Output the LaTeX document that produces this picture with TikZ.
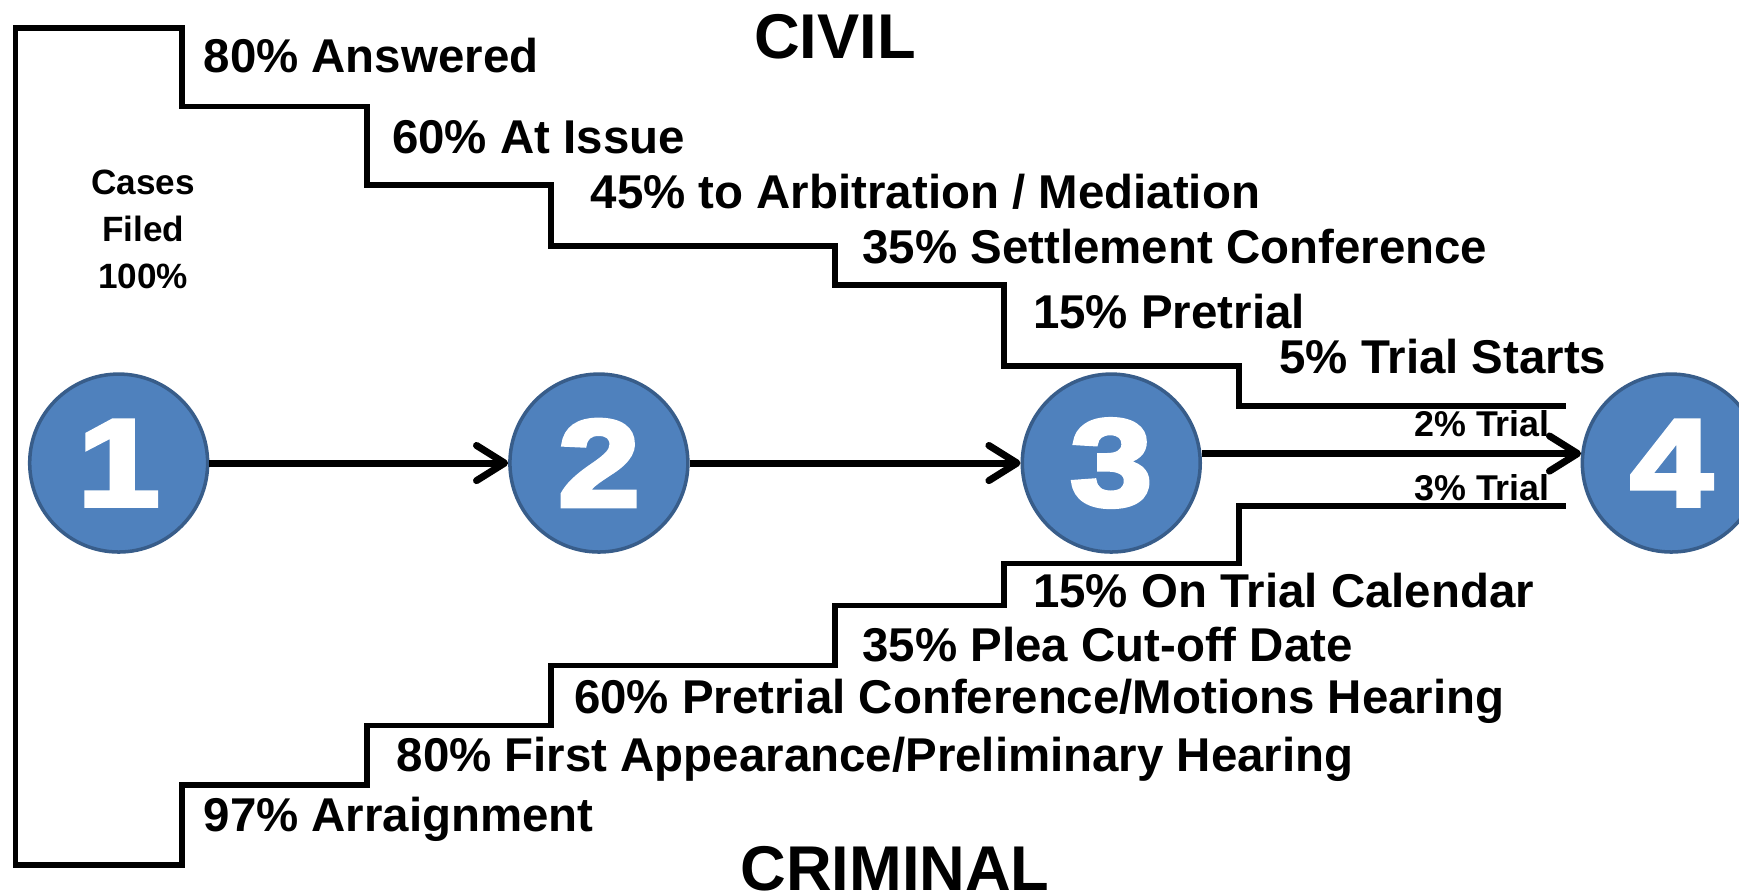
\documentclass[tikz,border=0pt]{standalone}
\usepackage{fontspec}
\setmainfont{Liberation Sans}
\newfontfamily\digitfont[FakeBold=4, FakeStretch=1.2]{Liberation Sans Bold}
\usetikzlibrary{arrows.meta}
\definecolor{stageBlue}{HTML}{4F81BD}
\definecolor{stageEdge}{HTML}{385D8A}

\begin{document}
\begin{tikzpicture}[x=0.01109cm, y=-0.01109cm,
    stage/.style={circle, draw=stageEdge, line width=1pt, fill=stageBlue, minimum size=1.78cm, inner sep=0pt, text=white, font=\digitfont\fontsize{35}{35}\selectfont},
    steptext/.style={anchor=base west, inner sep=0pt, font=\bfseries\fontsize{13.5}{16}\selectfont},
    trialtext/.style={anchor=base east, inner sep=0pt, font=\bfseries\fontsize{10.2}{12}\selectfont},
    heading/.style={anchor=base, inner sep=0pt, font=\bfseries\fontsize{18}{20}\selectfont},
    flow/.style={line width=2pt, -{Straight Barb[length=8pt, width=10pt, round]}},
    stairs/.style={line width=1.6pt}]
    \useasboundingbox (0,0) rectangle (1568,806);

    % stages
    \node[stage] (c1) at (107,417.5) {1};
    \node[stage] (c2) at (540,417.5) {2};
    \node[stage] (c3) at (1002,417.5) {3};
    \node[stage] (c4) at (1507,417.5) {4};

    \draw[flow] (c1) -- (c2);
    \draw[flow] (c2) -- (c3);
    \draw[flow] (c3.6) -- (c4.174);

    % civil on top, criminal below
    \draw[stairs] (1412,366) -| (1117,330) -| (905,257) -| (753,222) -| (497,167) -| (331,96) -| (164,25) -- (14,25)
        -- (14,780) -| (164,708) -| (331,654) -| (497,600) -| (753,546) -| (905,508) -| (1117,456) -- (1412,456);

    \node[heading] (civil) at (753,52.6) {CIVIL};
    \node[heading] (criminal) at (807,802.5) {CRIMINAL};

    \node[align=center, font=\bfseries\fontsize{10}{13.3}\selectfont] (filed) at (129,207) {Cases\\Filed\\100\%};

    \node[steptext] (answered) at (183,65) {80\% Answered};
    \node[steptext] (issue) at (353,138) {60\% At Issue};
    \node[steptext] (arbit) at (532,188) {45\% to Arbitration / Mediation};
    \node[steptext] (settle) at (777,237.5) {35\% Settlement Conference};
    \node[steptext] (pretrial) at (931,296) {15\% Pretrial};
    \node[steptext] (starts) at (1153,336.5) {5\% Trial Starts};

    \node[trialtext] (civtrial) at (1398,394) {2\% Trial};
    \node[trialtext] (crimtrial) at (1398,451) {3\% Trial};

    \node[steptext] (calendar) at (931,548) {15\% On Trial Calendar};
    \node[steptext] (plea) at (777,596) {35\% Plea Cut-off Date};
    \node[steptext] (motions) at (517,643) {60\% Pretrial Conference/Motions Hearing};
    \node[steptext] (appear) at (357,696) {80\% First Appearance/Preliminary Hearing};
    \node[steptext] (arraign) at (183,750) {97\% Arraignment};
\end{tikzpicture}
\end{document}
